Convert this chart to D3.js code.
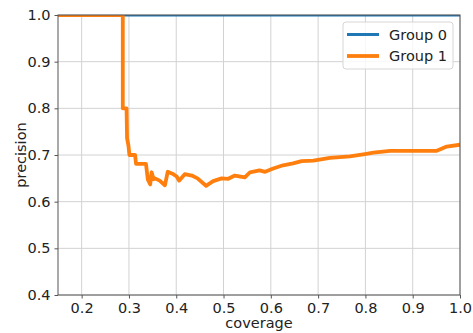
<!DOCTYPE html>
<html>
<head>
<meta charset="utf-8">
<script src="https://cdn.jsdelivr.net/npm/d3@7"></script>
<style>
  html, body { margin: 0; padding: 0; background: #fff; }
  svg { display: block; font-family: "DejaVu Sans", sans-serif; }
</style>
</head>
<body>
<svg id="chart" width="473" height="333"></svg>
<script>
// Precision vs. coverage for two groups
const xTicks = [0.2, 0.3, 0.4, 0.5, 0.6, 0.7, 0.8, 0.9, 1.0];
const yTicks = [0.4, 0.5, 0.6, 0.7, 0.8, 0.9, 1.0];
const groupNames = ["Group 0", "Group 1"];

const group0Coverage = [0.15, 1.0];
const group0Precision = [1.0, 1.0];

const group1Coverage = [0.15, 0.287, 0.287, 0.295, 0.296, 0.299, 0.301, 0.313, 0.315, 0.336,
  0.340, 0.345, 0.348, 0.352, 0.355, 0.365, 0.376, 0.382, 0.392, 0.401, 0.406, 0.412, 0.418,
  0.433, 0.445, 0.463, 0.478, 0.496, 0.51, 0.524, 0.545, 0.556, 0.576, 0.588, 0.605, 0.626,
  0.647, 0.665, 0.690, 0.725, 0.767, 0.799, 0.817, 0.852, 0.951, 0.972, 1.0];
const group1Precision = [1.0, 1.0, 0.8, 0.8, 0.736, 0.72, 0.70, 0.70, 0.681, 0.681,
  0.647, 0.637, 0.663, 0.648, 0.650, 0.645, 0.635, 0.664, 0.66, 0.654, 0.645, 0.652, 0.659,
  0.656, 0.65, 0.634, 0.644, 0.650, 0.649, 0.656, 0.652, 0.663, 0.667, 0.664, 0.671, 0.678,
  0.682, 0.687, 0.688, 0.694, 0.697, 0.702, 0.705, 0.709, 0.709, 0.718, 0.722];

const colors = ["#1f77b4", "#ff7f0e"];
const fontSize = 14.5;

const margin = { left: 58, right: 13, top: 15, bottom: 38 };
const W = 473, H = 333;
const svg = d3.select("#chart");

const x = d3.scaleLinear().domain([0.15, 1.0]).range([margin.left, W - margin.right]);
const y = d3.scaleLinear().domain([0.4, 1.0]).range([H - margin.bottom, margin.top]);

// clip region for the plotting area
svg.append("defs").append("clipPath").attr("id", "plot-clip")
  .append("rect")
  .attr("x", x.range()[0]).attr("y", y.range()[1])
  .attr("width", x.range()[1] - x.range()[0])
  .attr("height", y.range()[0] - y.range()[1]);

// grid
const grid = svg.append("g");
grid.selectAll("line.gx").data(xTicks).join("line")
  .attr("x1", d => x(d)).attr("x2", d => x(d))
  .attr("y1", y.range()[0]).attr("y2", y.range()[1])
  .attr("stroke", "#d2d2d2").attr("stroke-width", 1);
grid.selectAll("line.gy").data(yTicks).join("line")
  .attr("y1", d => y(d)).attr("y2", d => y(d))
  .attr("x1", x.range()[0]).attr("x2", x.range()[1])
  .attr("stroke", "#d2d2d2").attr("stroke-width", 1);

// lines
const line = d3.line().x(d => x(d[0])).y(d => y(d[1]));
const series = [
  d3.zip(group0Coverage, group0Precision),
  d3.zip(group1Coverage, group1Precision)
];
const plot = svg.append("g").attr("clip-path", "url(#plot-clip)");
plot.append("path").datum(series[0]).attr("d", line)
  .attr("fill", "none").attr("stroke", colors[0]).attr("stroke-width", 3);
plot.append("path").datum(series[1]).attr("d", line)
  .attr("fill", "none").attr("stroke", colors[1]).attr("stroke-width", 3.8)
  .attr("stroke-linejoin", "round");

// axes
const xAxis = svg.append("g").attr("transform", `translate(0,${y.range()[0]})`)
  .call(d3.axisBottom(x).tickValues(xTicks).tickFormat(d3.format(".1f")).tickSizeInner(3.5).tickSizeOuter(0).tickPadding(4));
const yAxis = svg.append("g").attr("transform", `translate(${x.range()[0]},0)`)
  .call(d3.axisLeft(y).tickValues(yTicks).tickFormat(d3.format(".1f")).tickSizeInner(3.5).tickSizeOuter(0).tickPadding(4));
[xAxis, yAxis].forEach(a => {
  a.selectAll("text").attr("font-size", fontSize).attr("fill", "#222").attr("font-family", "DejaVu Sans");
  a.selectAll("line").attr("stroke", "#555");
  a.select(".domain").remove();
});

// frame
svg.append("rect")
  .attr("x", x.range()[0]).attr("y", y.range()[1])
  .attr("width", x.range()[1] - x.range()[0])
  .attr("height", y.range()[0] - y.range()[1])
  .attr("fill", "none").attr("stroke", "#555").attr("stroke-width", 1);

// axis titles
svg.append("text")
  .attr("x", (x.range()[0] + x.range()[1]) / 2).attr("y", 328)
  .attr("text-anchor", "middle").attr("font-size", fontSize).attr("fill", "#222")
  .text("coverage");
svg.append("text")
  .attr("transform", `translate(26,${(y.range()[0] + y.range()[1]) / 2}) rotate(-90)`)
  .attr("text-anchor", "middle").attr("font-size", fontSize).attr("fill", "#222")
  .text("precision");

// legend
const legend = svg.append("g").attr("transform", "translate(343,22)");
legend.append("rect").attr("width", 110).attr("height", 47).attr("rx", 3)
  .attr("fill", "rgba(255,255,255,0.8)").attr("stroke", "#d6d6d6");
groupNames.forEach((name, i) => {
  const gy = 12.5 + i * 21.5;
  legend.append("line").attr("x1", 4).attr("x2", 36).attr("y1", gy).attr("y2", gy)
    .attr("stroke", colors[i]).attr("stroke-width", i === 0 ? 3 : 3.8);
  legend.append("text").attr("x", 46).attr("y", gy + 5).attr("font-size", fontSize)
    .attr("fill", "#222").text(name);
});
</script>
</body>
</html>
